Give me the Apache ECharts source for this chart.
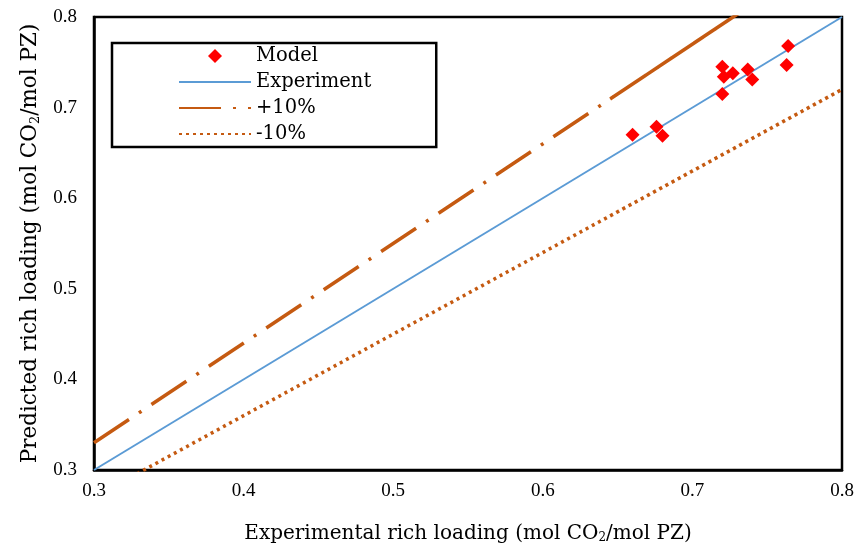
<!DOCTYPE html>
<html>
<head>
<meta charset="utf-8">
<script src="https://cdn.jsdelivr.net/npm/echarts@6/dist/echarts.min.js"></script>
<style>
  html, body { margin: 0; padding: 0; background: #fff; }
  #chart { width: 858px; height: 549px; }
</style>
</head>
<body>
<div id="chart"></div>
<script>
// Model predictions vs. measured rich loadings
const modelX = [0.660, 0.676, 0.680, 0.720, 0.721, 0.727, 0.720, 0.737, 0.740, 0.764, 0.763];
const modelY = [0.670, 0.679, 0.669, 0.745, 0.734, 0.738, 0.715, 0.742, 0.731, 0.768, 0.747];

// Parity line
const experimentX = [0.3, 0.8];
const experimentY = [0.3, 0.8];

// ±10 % bands; the traced path doubles back over the upper range
const bandX     = [0.30, 0.80, 0.645];
const plus10Y   = [0.330, 0.880, 0.7095];
const minus10Y  = [0.270, 0.720, 0.5805];

const axisTicks = [0.3, 0.4, 0.5, 0.6, 0.7, 0.8];

const TICK_FONT = 'Liberation Serif';
const TEXT_FONT = 'DejaVu Serif';
const ORANGE = '#C55A11';
const BLUE = '#5B9BD5';

const pairs = (xs, ys) => xs.map((x, i) => [x, ys[i]]);
const diamond = 'path://M0,-1 L1,0 L0,1 L-1,0 Z';

const nameStyle = (size) => ({
  fontFamily: TEXT_FONT, fontSize: size, color: '#000',
  rich: { sub: { fontFamily: TEXT_FONT, fontSize: Math.round(size * 0.62), color: '#000', verticalAlign: 'bottom', padding: [Math.round(size * 0.45), 0, 0, 0] } }
});

const chart = echarts.init(document.getElementById('chart'));
chart.setOption({
  animation: false,
  backgroundColor: '#fff',
  grid: {
    left: 94, top: 17, right: 16, bottom: 77,
    show: true, borderColor: '#000', borderWidth: 2.5, backgroundColor: 'transparent'
  },
  xAxis: {
    type: 'value',
    min: axisTicks[0], max: axisTicks[axisTicks.length - 1], interval: 0.1,
    name: 'Experimental rich loading (mol CO{sub|2}/mol PZ)',
    nameLocation: 'middle', nameGap: 53,
    nameTextStyle: nameStyle(20),
    axisLine: { show: true, lineStyle: { color: '#000', width: 2.5 } },
    axisTick: { show: false },
    splitLine: { show: false },
    axisLabel: { fontFamily: TICK_FONT, fontSize: 19, color: '#000', margin: 12, formatter: v => v.toFixed(1) }
  },
  yAxis: {
    type: 'value',
    min: axisTicks[0], max: axisTicks[axisTicks.length - 1], interval: 0.1,
    name: 'Predicted rich loading (mol CO{sub|2}/mol PZ)',
    nameLocation: 'middle', nameGap: 45, nameRotate: 90,
    nameTextStyle: nameStyle(21.5),
    axisLine: { show: true, lineStyle: { color: '#000', width: 2.5 } },
    axisTick: { show: false },
    splitLine: { show: false },
    axisLabel: { fontFamily: TICK_FONT, fontSize: 19, color: '#000', margin: 17, formatter: v => v.toFixed(1) }
  },
  legend: {
    orient: 'vertical',
    left: 112, top: 43,
    padding: [3, 65, 3, 66],
    itemWidth: 72, itemHeight: 14, itemGap: 6,
    borderColor: '#000', borderWidth: 2.5,
    backgroundColor: '#fff',
    textStyle: { fontFamily: TEXT_FONT, fontSize: 19.5, color: '#000', width: 115, height: 20, lineHeight: 20 },
    data: [
      { name: 'Model', icon: diamond },
      { name: 'Experiment', itemStyle: { opacity: 0 } },
      { name: '+10%', itemStyle: { opacity: 0 } },
      { name: '-10%', itemStyle: { opacity: 0 } }
    ]
  },
  series: [
    {
      name: 'Experiment', type: 'line', data: pairs(experimentX, experimentY),
      symbol: 'none', clip: true, z: 2,
      lineStyle: { color: BLUE, width: 2 }, itemStyle: { color: BLUE }
    },
    {
      name: '+10%', type: 'line', data: pairs(bandX, plus10Y),
      symbol: 'none', clip: true, z: 2,
      lineStyle: { color: ORANGE, width: 3.5, type: [42, 12, 3, 12], join: 'bevel' }, itemStyle: { color: ORANGE }
    },
    {
      name: '-10%', type: 'line', data: pairs(bandX, minus10Y),
      symbol: 'none', clip: true, z: 2,
      lineStyle: { color: ORANGE, width: 3.5, type: [3, 4], join: 'bevel' }, itemStyle: { color: ORANGE }
    },
    {
      name: 'Model', type: 'scatter', data: pairs(modelX, modelY),
      symbol: diamond, symbolSize: 14, z: 3,
      itemStyle: { color: '#FF0000', opacity: 1 }
    }
  ]
});
</script>
</body>
</html>
